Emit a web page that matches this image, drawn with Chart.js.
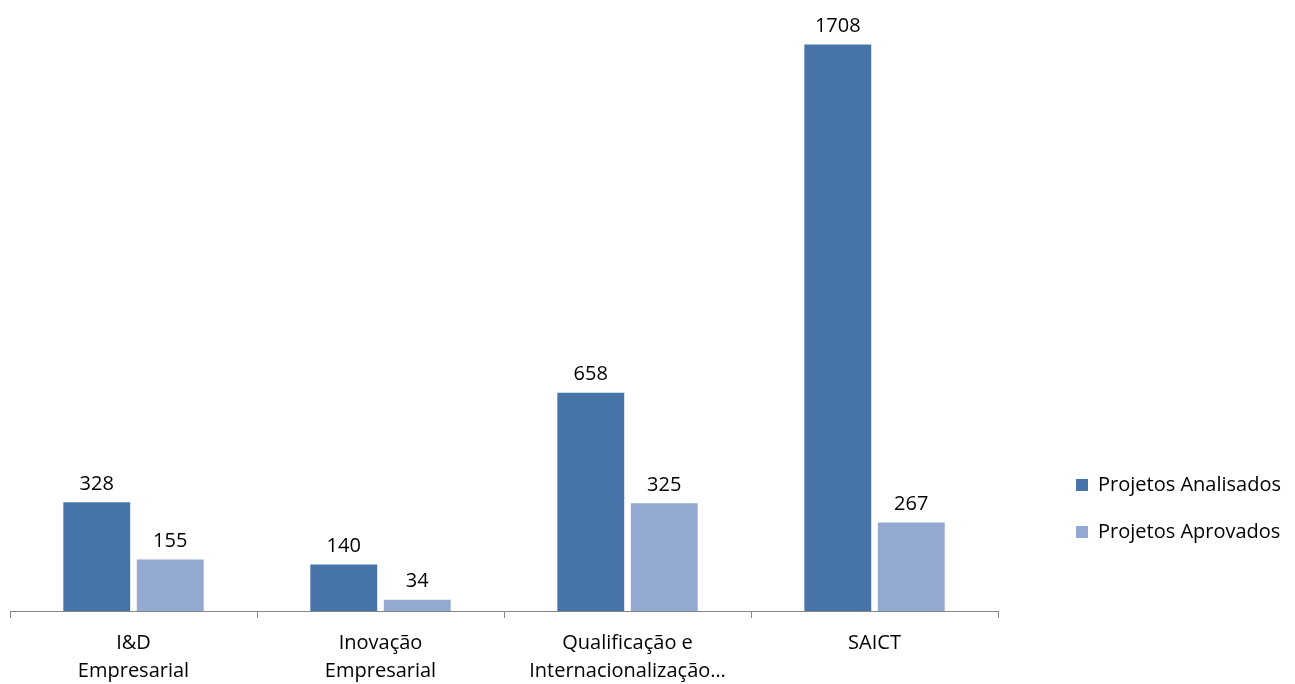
<!DOCTYPE html>
<html>
<head>
<meta charset="utf-8">
<script src="https://cdn.jsdelivr.net/npm/chart.js@4"></script>
<style>
  html, body { margin: 0; padding: 0; background: #fff; }
  #wrap { width: 1295px; height: 684px; }
</style>
</head>
<body>
<div id="wrap"><canvas id="myChart" width="1295" height="684"></canvas></div>
<script>
'use strict' ;

const categories = [
  ['I&D', 'Empresarial'],
  ['Inovação', 'Empresarial'],
  ['Qualificação e', 'Internacionalização…'],
  'SAICT'
] ;
const analisados = [328, 140, 658, 1708] ;
const aprovados = [155, 34, 325, 267] ;
const seriesNames = ['Projetos Analisados', 'Projetos Aprovados'] ;

const font = 'Open Sans' ;

// value labels above each bar
const barLabels = {
  id: 'barLabels',
  afterDatasetsDraw (chart)
  {
    const ctx = chart.ctx ;
    ctx.save() ;
    ctx.font = '20px "' + font + '"' ;
    ctx.fillStyle = '#000' ;
    ctx.textAlign = 'center' ;
    ctx.textBaseline = 'bottom' ;
    chart.data.datasets.forEach((ds, i) => {
      chart.getDatasetMeta(i).data.forEach((bar, j) => {
        ctx.fillText(ds.data[j], bar.x, bar.y - 8) ;
      }) ;
    }) ;
    ctx.restore() ;
  }
} ;

// move the legend block to where the original sits (right, lower half)
const legendPlace = {
  id: 'legendPlace',
  afterLayout (chart)
  {
    const lg = chart.legend ;
    const dx = 1076 - 27 - lg.left ;
    lg.left += dx ;
    lg.right += dx ;
    lg.top = 448 ;
    lg.bottom = 570 ;
  }
} ;

let ctx = document.getElementById('myChart').getContext('2d') ;
let myChart = new Chart(ctx, {
  type: 'bar',
  data: {
    labels: categories,
    datasets: [
      {
        label: seriesNames[0],
        data: analisados,
        backgroundColor: '#4674A8',
        categoryPercentage: 0.595,
        barPercentage: 0.91
      },
      {
        label: seriesNames[1],
        data: aprovados,
        backgroundColor: '#94A9D2',
        categoryPercentage: 0.595,
        barPercentage: 0.91
      }
    ]
  },
  options: {
    responsive: false,
    animation: false,
    layout: { padding: { left: 10, top: 14, right: 55, bottom: -12 } },
    scales: {
      x: {
        grid: {
          offset: true,
          drawOnChartArea: false,
          color: '#868686',
          tickLength: 7
        },
        border: { color: '#868686', width: 1 },
        ticks: {
          color: '#000',
          font: { family: font, size: 20, lineHeight: 1.4 },
          padding: 11,
          maxRotation: 0
        }
      },
      y: {
        display: false,
        min: 0,
        max: 1800
      }
    },
    plugins: {
      legend: {
        position: 'right',
        align: 'start',
        labels: {
          boxWidth: 12,
          boxHeight: 12,
          padding: 27,
          color: '#000',
          font: { family: font, size: 20 }
        }
      },
      tooltip: { enabled: false }
    }
  },
  plugins: [barLabels, legendPlace]
}) ;
</script>
</body>
</html>
